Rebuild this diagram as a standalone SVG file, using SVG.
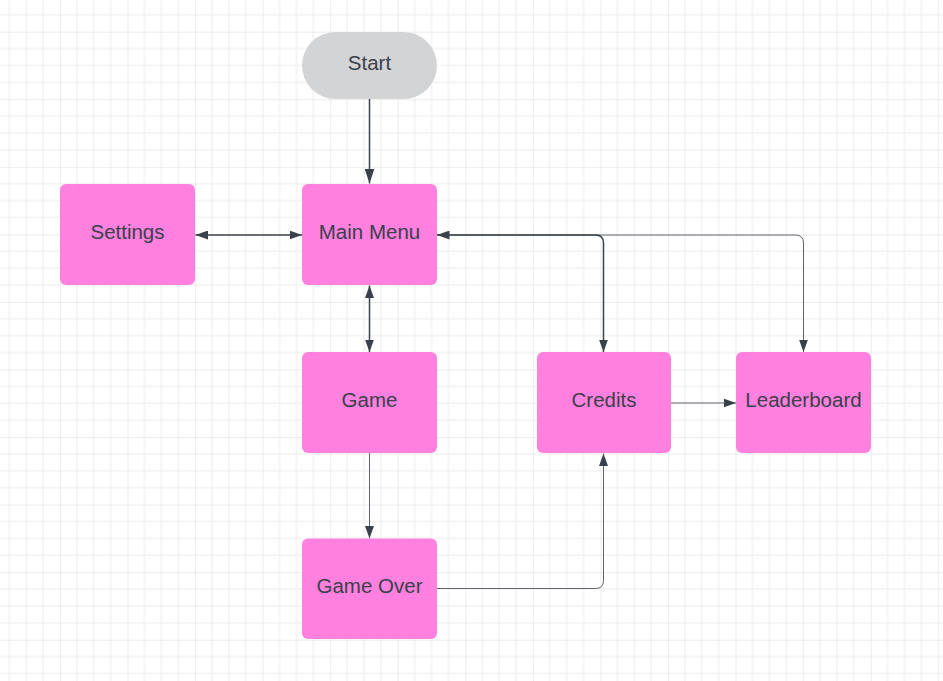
<svg xmlns="http://www.w3.org/2000/svg" width="943" height="681" viewBox="0 0 943 681">
  <style>
    .node { fill: #ff80df; }
    .start { fill: #d3d4d6; }
    .label { font-family: "Liberation Sans", Arial, sans-serif; font-size: 20.5px; fill: #3a414a; text-anchor: middle; }
    .edge { fill: none; stroke: #3a414a; stroke-width: 1.5; }
    .thin { fill: none; stroke: #5f656d; stroke-width: 1; }
  </style>
  <defs>
    <pattern id="grid" patternUnits="userSpaceOnUse" x="60" y="31.7" width="67.56" height="67.56">
      <path d="M16.89,0 V67.56 M33.78,0 V67.56 M50.67,0 V67.56 M0,16.89 H67.56 M0,33.78 H67.56 M0,50.67 H67.56" stroke="#ebebeb" stroke-width="1" fill="none"/>
      <path d="M0,0 V67.56 M0,0 H67.56" stroke="#dadada" stroke-width="1" fill="none"/>
    </pattern>
    <marker id="arr" markerUnits="userSpaceOnUse" markerWidth="13" markerHeight="9" refX="12.5" refY="4.5" orient="auto-start-reverse">
      <path d="M0,0 L12.5,4.5 L0,9 z" fill="#3a414a"/>
    </marker>
    <marker id="arrL" markerUnits="userSpaceOnUse" markerWidth="15" markerHeight="10" refX="15" refY="5" orient="auto-start-reverse">
      <path d="M0,0 L15,5 L0,10 z" fill="#3a414a"/>
    </marker>
  </defs>
  <rect width="943" height="681" fill="#ffffff"/>
  <rect width="943" height="681" fill="url(#grid)"/>

  <g id="connectors">
    <path class="edge" d="M369.5,99 V183.5" stroke-width="2" marker-end="url(#arrL)"/>
    <path class="edge" d="M195.5,235 H302" marker-start="url(#arr)" marker-end="url(#arr)"/>
    <path class="edge" d="M369.5,285.5 V352" marker-start="url(#arr)" marker-end="url(#arr)"/>
    <path class="thin" d="M437,235 H795.5 Q803.5,235 803.5,243 V352" marker-end="url(#arr)"/>
    <path class="edge" d="M437,235 H595.5 Q603.5,235 603.5,243 V352" marker-start="url(#arr)" marker-end="url(#arr)"/>
    <path class="thin" d="M369.5,453 V538.5" marker-end="url(#arr)"/>
    <path class="thin" d="M437,588.5 H595.5 Q603.5,588.5 603.5,580.5 V453.5" marker-end="url(#arr)"/>
    <path class="thin" d="M671,403 H736" stroke-width="1.2" marker-end="url(#arr)"/>
  </g>

  <g id="start">
    <rect class="start" x="302" y="32" width="135" height="67" rx="33.5"/>
    <text class="label" x="369.5" y="70">Start</text>
  </g>
  <g id="main-menu">
    <rect class="node" x="302" y="184" width="135" height="101" rx="6"/>
    <text class="label" x="369.5" y="238.5">Main Menu</text>
  </g>
  <g id="settings">
    <rect class="node" x="60" y="184" width="135" height="101" rx="6"/>
    <text class="label" x="127.5" y="238.5">Settings</text>
  </g>
  <g id="game">
    <rect class="node" x="302" y="352" width="135" height="101" rx="6"/>
    <text class="label" x="369.5" y="407">Game</text>
  </g>
  <g id="credits">
    <rect class="node" x="537" y="352" width="134" height="101" rx="6"/>
    <text class="label" x="604" y="407">Credits</text>
  </g>
  <g id="leaderboard">
    <rect class="node" x="736" y="352" width="135" height="101" rx="6"/>
    <text class="label" x="803.5" y="407">Leaderboard</text>
  </g>
  <g id="game-over">
    <rect class="node" x="302" y="538.5" width="135" height="100.5" rx="6"/>
    <text class="label" x="369.5" y="593">Game Over</text>
  </g>
</svg>
